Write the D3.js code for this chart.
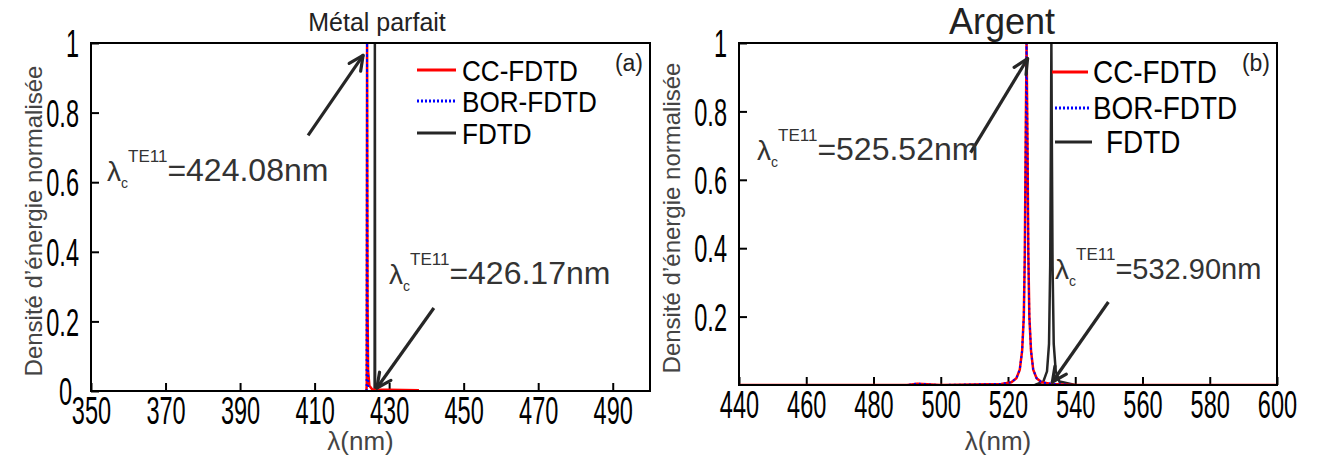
<!DOCTYPE html>
<html>
<head>
<meta charset="utf-8">
<script src="https://cdn.jsdelivr.net/npm/d3@7"></script>
<style>
  html, body { margin: 0; padding: 0; background: #fff; }
  svg { display: block; font-family: "Liberation Sans", Arial, sans-serif; }
</style>
</head>
<body>
<svg id="fig" width="1327" height="463"></svg>
<script>
// ---- Panel (a): perfect metal ----
const ticksA_x = [350, 370, 390, 410, 430, 450, 470, 490];
const ticksA_y = [0, 0.2, 0.4, 0.6, 0.8, 1];
const peakA_cc = 424.08;   // CC-FDTD / BOR-FDTD cutoff
const peakA_fdtd = 426.17; // FDTD cutoff
const ccA_lambda = [423.9, 424.0, 424.08, 424.2, 424.35, 424.7, 425.5, 438.0];
const ccA_value  = [0,     0.02,  1,      0.25,  0.06,   0.015, 0.004, 0.002];
const borA_lambda = [423.95, 424.08, 424.2, 424.4];
const borA_value  = [0,      1,      0.2,   0.01];
const fdtdA_lambda = [426.10, 426.17, 426.24];
const fdtdA_value  = [0,      1,      0];

// ---- Panel (b): silver ----
const ticksB_x = [440, 460, 480, 500, 520, 540, 560, 580, 600];
const ticksB_y = [0.2, 0.4, 0.6, 0.8, 1];
const peakB_cc = 525.52;
const peakB_fdtd = 532.90;
const ccB_lambda = [440, 490, 493, 496, 500, 518, 521, 522.5, 523.5, 524.2, 524.7, 525.0, 525.25, 525.52, 525.8, 526.05, 526.35, 526.85, 527.5, 528.5, 530, 533, 540, 600];
const ccB_value  = [0,   0,   0.004, 0.002, 0, 0.003, 0.008, 0.02, 0.045, 0.1, 0.2, 0.38, 0.7, 1, 0.7, 0.38, 0.2, 0.1, 0.045, 0.02, 0.008, 0.003, 0, 0];
const borB_lambda = ccB_lambda;
const borB_value  = ccB_value;
const fdtdB_lambda = [528, 530.5, 531.6, 532.2, 532.55, 532.75, 532.9, 533.05, 533.25, 533.6, 534.2, 535.3, 540];
const fdtdB_value  = [0,   0.01,  0.04,  0.12,  0.35,   0.7,    1,     0.7,    0.35,   0.12,  0.04,  0.01,  0];

const seriesNames = ["CC-FDTD", "BOR-FDTD", "FDTD"];

const svg = d3.select("#fig");
const TICK_FONT = 38, TICK_SX = 0.62;

function zip(xs, ys) { return xs.map((v, i) => [v, ys[i]]); }

function panel(cfg) {
  const x = d3.scaleLinear().domain(cfg.xDomain).range(cfg.xRange);
  const y = d3.scaleLinear().domain([0, 1]).range(cfg.yRange);
  const g = svg.append("g");

  // axes with inward ticks
  const ax = g.append("g").attr("transform", `translate(0,${cfg.yRange[0]})`)
    .call(d3.axisBottom(x).tickValues(cfg.xTicks).tickSize(-8).tickPadding(6).tickFormat(d3.format("d")));
  const ay = g.append("g").attr("transform", `translate(${cfg.xRange[0]},0)`)
    .call(d3.axisLeft(y).tickValues(cfg.yTicks).tickSize(-8).tickPadding(10).tickFormat(d => d === 0 ? "0" : d === 1 ? "1" : d3.format(".1f")(d)));
  [ax, ay].forEach(a => {
    a.select(".domain").remove();
    a.selectAll("line").attr("stroke", "#000").attr("stroke-width", 2);
    a.selectAll("text").attr("font-size", TICK_FONT).attr("fill", "#000")
      .attr("font-family", "'Liberation Sans', Arial, sans-serif");
  });
  ax.selectAll("text").attr("dy", "0.72em")
    .attr("transform", `scale(${TICK_SX},1)`);
  ay.selectAll("text").attr("dy", "0.36em")
    .attr("transform", `scale(${TICK_SX},1)`)
    .attr("x", -12 / TICK_SX);
  if (cfg.zeroOffset) {
    // the zero label sits just left of the first x tick label
    ay.selectAll(".tick").filter(d => d === 0).select("text")
      .attr("x", -19 / TICK_SX).attr("dy", "0.36em");
  }

  // series
  const line = d3.line().x(d => x(d[0])).y(d => y(d[1]));
  const clipId = "clip" + cfg.id;
  svg.append("clipPath").attr("id", clipId).append("rect")
    .attr("x", cfg.xRange[0]).attr("y", cfg.yRange[1])
    .attr("width", cfg.xRange[1] - cfg.xRange[0]).attr("height", cfg.yRange[0] - cfg.yRange[1]);
  const plot = g.append("g").attr("clip-path", `url(#${clipId})`);
  plot.append("path").datum(cfg.fdtd).attr("d", line)
    .attr("fill", "none").attr("stroke", "#262626").attr("stroke-width", 2.5);
  plot.append("path").datum(cfg.cc).attr("d", line)
    .attr("fill", "none").attr("stroke", "#ff0000").attr("stroke-width", 2.5);
  plot.append("path").datum(cfg.bor).attr("d", line)
    .attr("fill", "none").attr("stroke", "#0000ff").attr("stroke-width", 2)
    .attr("stroke-dasharray", "2,3");

  // frame
  g.append("rect")
    .attr("x", cfg.xRange[0]).attr("y", cfg.yRange[1])
    .attr("width", cfg.xRange[1] - cfg.xRange[0]).attr("height", cfg.yRange[0] - cfg.yRange[1])
    .attr("fill", "none").attr("stroke", "#000").attr("stroke-width", 2);

  // title
  g.append("text").attr("x", cfg.titleX).attr("y", cfg.titleY)
    .attr("text-anchor", "middle").attr("font-size", cfg.titleSize).attr("fill", "#222")
    .text(cfg.title);

  // axis titles
  const midY = (cfg.yRange[0] + cfg.yRange[1]) / 2;
  g.append("text").attr("transform", `translate(${cfg.yLabelX},${midY + 4}) rotate(-90)`)
    .attr("text-anchor", "middle").attr("font-size", 24).attr("fill", "#444")
    .text("Densité d’énergie normalisée");
  g.append("text").attr("x", (cfg.xRange[0] + cfg.xRange[1]) / 2 - 10).attr("y", 450)
    .attr("text-anchor", "middle").attr("font-size", 26).attr("fill", "#444")
    .text("λ(nm)");

  // panel tag
  g.append("text").attr("x", cfg.xRange[1] - 7).attr("y", cfg.yRange[1] + 28)
    .attr("text-anchor", "end").attr("font-size", 23).attr("fill", "#222")
    .text(cfg.tag);

  // legend
  const L = cfg.legend;
  const styles = [
    { stroke: "#ff0000", w: 3, dash: null },
    { stroke: "#0000ff", w: 3, dash: "2,2" },
    { stroke: "#262626", w: 3, dash: null }
  ];
  seriesNames.forEach((name, i) => {
    const row = L.rows[i];
    g.append("line").attr("x1", row.x1).attr("x2", row.x2).attr("y1", row.y).attr("y2", row.y)
      .attr("stroke", styles[i].stroke).attr("stroke-width", styles[i].w)
      .attr("stroke-dasharray", styles[i].dash);
    g.append("text").attr("transform", `translate(${row.tx},${row.y + 11}) scale(${L.sx},1)`)
      .attr("font-size", L.size).attr("fill", "#000").text(name);
  });

  // annotations: cutoff wavelength labels with arrows
  cfg.notes.forEach(n => {
    const hx = x(n.at[0]) + n.off[0], hy = y(n.at[1]) + n.off[1];
    const tx = hx + n.tail[0], ty = hy + n.tail[1];
    g.append("line").attr("x1", tx).attr("y1", ty).attr("x2", hx).attr("y2", hy)
      .attr("stroke", "#262626").attr("stroke-width", 3.2);
    const ang = Math.atan2(ty - hy, tx - hx);
    [-0.45, 0.45].forEach(da => {
      g.append("line").attr("x1", hx).attr("y1", hy)
        .attr("x2", hx + 16 * Math.cos(ang + da)).attr("y2", hy + 16 * Math.sin(ang + da))
        .attr("stroke", "#262626").attr("stroke-width", 3.2).attr("stroke-linecap", "round");
    });
    const t = g.append("text").attr("x", n.tx).attr("y", n.ty).attr("fill", "#333");
    t.append("tspan").attr("font-size", 28).text("λ");
    t.append("tspan").attr("font-size", 14).attr("dy", 7).text("c");
    t.append("tspan").attr("font-size", 17).attr("dy", -26).text("TE11");
    t.append("tspan").attr("font-size", n.size).attr("dy", 19).text(`=${n.value.toFixed(2)}nm`);
  });
}

panel({
  id: "A", xDomain: [350, 500], xRange: [91, 650], yRange: [391, 43],
  xTicks: ticksA_x, yTicks: ticksA_y, zeroOffset: true,
  cc: zip(ccA_lambda, ccA_value), bor: zip(borA_lambda, borA_value), fdtd: zip(fdtdA_lambda, fdtdA_value),
  title: "Métal parfait", titleX: 377, titleY: 31, titleSize: 25,
  yLabelX: 42, tag: "(a)",
  legend: { size: 29, sx: 0.9, rows: [
    { x1: 417, x2: 456, y: 70, tx: 462 },
    { x1: 417, x2: 456, y: 101, tx: 462 },
    { x1: 417, x2: 456, y: 133, tx: 462 } ] },
  notes: [
    { at: [peakA_cc, 0.97], off: [-4, 2], tail: [-55, 80], value: peakA_cc, size: 32, tx: 107, ty: 181 },
    { at: [peakA_fdtd, 0], off: [2, -3], tail: [57, -80], value: peakA_fdtd, size: 32, tx: 389, ty: 284 }
  ]
});

panel({
  id: "B", xDomain: [440, 600], xRange: [739, 1277], yRange: [385, 43],
  xTicks: ticksB_x, yTicks: ticksB_y, zeroOffset: false,
  cc: zip(ccB_lambda, ccB_value), bor: zip(borB_lambda, borB_value), fdtd: zip(fdtdB_lambda, fdtdB_value),
  title: "Argent", titleX: 1002, titleY: 34, titleSize: 36,
  yLabelX: 680, tag: "(b)",
  legend: { size: 31, sx: 0.9, rows: [
    { x1: 1052, x2: 1088, y: 72, tx: 1093 },
    { x1: 1055, x2: 1091, y: 108, tx: 1093 },
    { x1: 1055, x2: 1092, y: 142, tx: 1106 } ] },
  notes: [
    { at: [peakB_cc, 0.96], off: [1, 2], tail: [-57, 94], value: peakB_cc, size: 32, tx: 757, ty: 160 },
    { at: [peakB_fdtd, 0], off: [1, -3], tail: [56, -80], value: peakB_fdtd, size: 29, tx: 1055, ty: 279 }
  ]
});
</script>
</body>
</html>
